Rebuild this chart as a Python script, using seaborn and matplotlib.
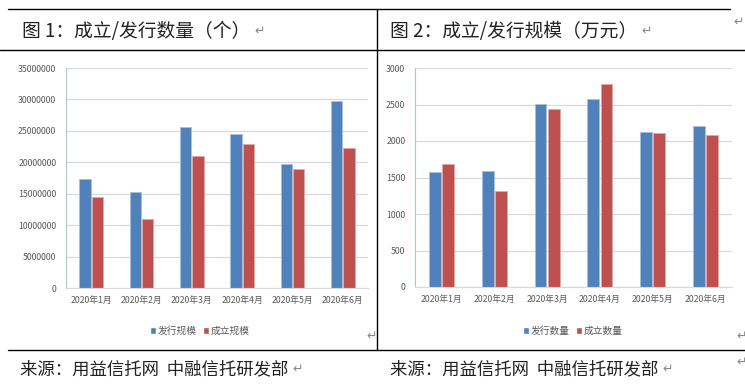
import pandas as pd
import matplotlib
matplotlib.use("Agg")
import matplotlib.pyplot as plt
import seaborn as sns
from matplotlib.lines import Line2D
from matplotlib.patches import Patch

# data
months = ['2020年1月', '2020年2月', '2020年3月', '2020年4月', '2020年5月', '2020年6月']
issue_scale = [17300000, 15300000, 25600000, 24500000, 19700000, 29800000]
found_scale = [14500000, 10900000, 21000000, 22900000, 18900000, 22200000]
issue_count = [1570, 1583, 2505, 2573, 2124, 2206]
found_count = [1685, 1312, 2436, 2775, 2106, 2078]

title1 = '图 1：成立/发行数量（个）'
title2 = '图 2：成立/发行规模（万元）'
source = '来源：用益信托网  中融信托研发部'

BLUE = '#4F81BD'
RED = '#C0504D'
FAM = ['Noto Sans CJK SC', 'DejaVu Sans']

sns.set_style('white')
plt.rcParams['font.family'] = FAM

W, H = 745, 388
fig = plt.figure(figsize=(W / 100, H / 100), dpi=100)


def px_axes(x0, y0, x1, y1):
    return fig.add_axes([x0 / W, 1 - y1 / H, (x1 - x0) / W, (y1 - y0) / H])


def draw(ax, a, b, names, ymax, step):
    df = pd.DataFrame({
        'month': months * 2,
        'value': a + b,
        'series': [names[0]] * len(months) + [names[1]] * len(months),
    })
    sns.barplot(data=df, x='month', y='value', hue='series', palette=[BLUE, RED],
                width=0.5, gap=0.1, legend=False, ax=ax, saturation=1)
    for cont, ec in zip(ax.containers, ['#A7C0DE', '#E0A8A6']):
        for bar in cont:
            bar.set_edgecolor(ec)
            bar.set_linewidth(0.6)
    ax.set_xlim(-0.5, len(months) - 0.5)
    ax.set_ylim(0, ymax)
    ax.set_yticks(range(0, ymax + 1, step))
    ax.set_yticklabels([str(v) for v in range(0, ymax + 1, step)])
    ax.yaxis.grid(True, color='#D9D9D9', linewidth=0.9)
    ax.set_axisbelow(True)
    for s in ['top', 'right']:
        ax.spines[s].set_visible(False)
    ax.spines['left'].set_color('#A9C4E4')
    ax.spines['bottom'].set_color('#D9D9D9')
    ax.set_xlabel('')
    ax.set_ylabel('')
    ax.tick_params(axis='y', labelsize=6.3, colors='#595959', length=3, color='#A9C4E4', pad=4)
    ax.tick_params(axis='x', labelsize=6.3, colors='#595959', length=0, pad=6)
    ax.set_xticks([i - 0.5 for i in range(len(months) + 1)], minor=True)
    ax.tick_params(axis='x', which='minor', length=4, color='#D9D9D9')


ax1 = px_axes(66, 68, 368, 288)
draw(ax1, issue_scale, found_scale, ['发行规模', '成立规模'], 35000000, 5000000)

ax2 = px_axes(415, 68, 732, 287)
draw(ax2, issue_count, found_count, ['发行数量', '成立数量'], 3000, 500)

# legends
for names, cx in [(['发行规模', '成立规模'], 200), (['发行数量', '成立数量'], 573)]:
    handles = [Patch(facecolor=BLUE, label=names[0]), Patch(facecolor=RED, label=names[1])]
    fig.legend(handles=handles, loc='center', bbox_to_anchor=(cx / W, 1 - 331 / H),
               ncol=2, frameon=False, fontsize=7, handlelength=0.6, handleheight=0.6,
               handletextpad=0.2, columnspacing=0.6, labelcolor='#595959')

# table frame lines
def hline(x0, x1, y):
    fig.add_artist(Line2D([x0 / W, x1 / W], [1 - y / H, 1 - y / H], color='black', lw=1.0))

hline(8, 730, 9)
hline(0, 745, 50)
hline(8, 745, 350)
fig.add_artist(Line2D([377 / W, 377 / W], [1 - 9 / H, 1 - 350 / H], color='black', lw=1.0))

# titles and sources, each followed by a grey paragraph mark
renderer = fig.canvas.get_renderer()


def para(x, y, s, size):
    t = fig.text(x / W, 1 - y / H, s, fontsize=size, va='center', ha='left', color='#222222')
    bb = t.get_window_extent(renderer)
    fig.text((bb.x1 + 4) / W, 1 - y / H, '↵', fontsize=9, va='center', color='#888888')


para(22, 31, title1, 13.5)
para(390, 31, title2, 13.5)
para(20, 369, source, 12.5)
para(390, 369, source, 12.5)

for x, y in [(733, 22), (736, 336), (736, 362), (366, 336)]:
    fig.text(x / W, 1 - y / H, '↵', fontsize=9, va='center', color='#888888')

fig.savefig('out.png', dpi=100)
